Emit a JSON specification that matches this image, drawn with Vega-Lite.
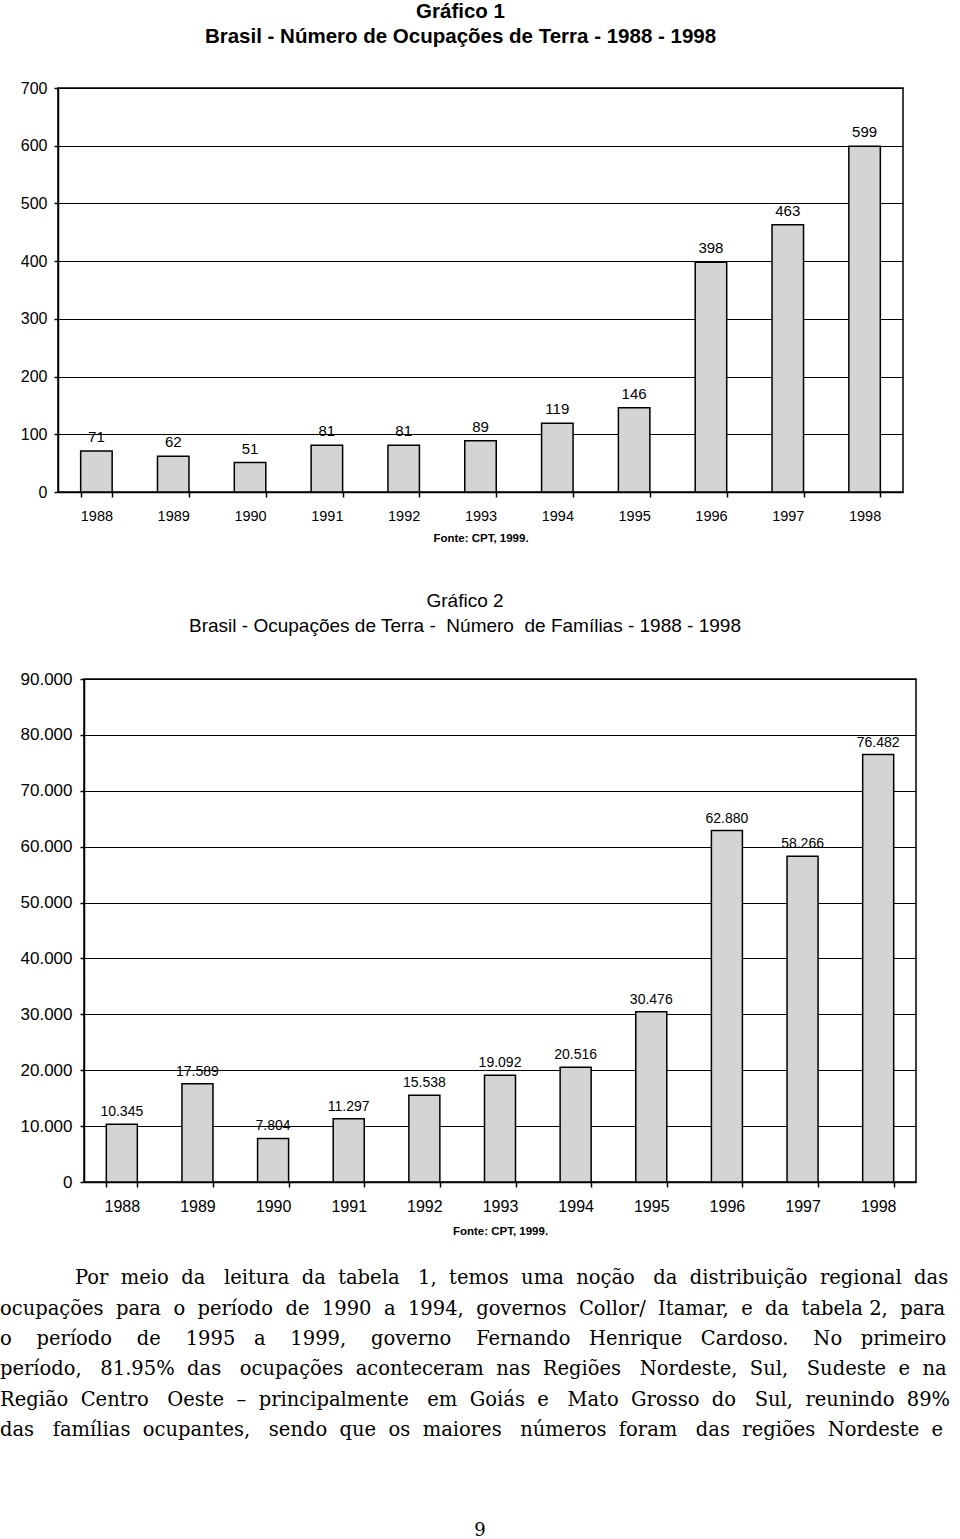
{
  "$schema": "https://vega.github.io/schema/vega-lite/v6.json",
  "padding": 0,
  "background": "white",
  "config": {
    "locale": {"number": {"decimal": ",", "thousands": ".", "grouping": [3], "currency": ["R$", ""]}},
    "view": {"stroke": "black", "strokeWidth": 1.5},
    "font": "Liberation Sans",
    "axis": {"domainColor": "black", "tickColor": "black", "gridColor": "black", "labelColor": "black", "titleColor": "black", "domainWidth": 1.5, "gridWidth": 1.2, "tickWidth": 1.5, "gridOpacity": 1, "labelFont": "Liberation Sans", "titleFont": "Liberation Sans"},
    "title": {"color": "black", "anchor": "middle", "frame": "group", "font": "Liberation Sans"}
  },
  "spacing": 25,
  "vconcat": [
    {
      "spacing": 46,
      "vconcat": [
        {"bounds": "flush", "spacing": 0, "hconcat": [
          {"width": 58, "height": 10, "view": {"stroke": null}, "data": {"values": []}, "mark": {"type": "point", "opacity": 0}},
          {
            "title": {"text": ["Gráfico 1", "Brasil - Número de Ocupações de Terra - 1988 - 1998"], "fontWeight": "bold", "fontSize": 20.5, "lineHeight": 25, "dx": -20, "offset": 33},
            "width": 845,
            "height": 404,
            "data": {"values": [
              {"ano": "1988", "ocupacoes": 71},
              {"ano": "1989", "ocupacoes": 62},
              {"ano": "1990", "ocupacoes": 51},
              {"ano": "1991", "ocupacoes": 81},
              {"ano": "1992", "ocupacoes": 81},
              {"ano": "1993", "ocupacoes": 89},
              {"ano": "1994", "ocupacoes": 119},
              {"ano": "1995", "ocupacoes": 146},
              {"ano": "1996", "ocupacoes": 398},
              {"ano": "1997", "ocupacoes": 463},
              {"ano": "1998", "ocupacoes": 599}
            ]},
            "encoding": {
              "x": {"field": "ano", "type": "ordinal", "scale": {"paddingInner": 0.59, "paddingOuter": 0.295},
                    "axis": {"title": "Fonte: CPT, 1999.", "titleFontWeight": "bold", "titleFontSize": 11.5, "titlePadding": 10, "labelAngle": 0, "tickBand": "extent", "tickSize": 5, "labelPadding": 12, "labelFontSize": 14.5, "grid": false}},
              "y": {"field": "ocupacoes", "type": "quantitative", "scale": {"domain": [0, 700], "nice": false},
                    "axis": {"values": [0, 100, 200, 300, 400, 500, 600, 700], "title": null, "tickSize": 4, "labelPadding": 7, "labelFontSize": 16, "grid": true}}
            },
            "layer": [
              {"mark": {"type": "bar", "fill": "#d4d4d4", "stroke": "black", "strokeWidth": 1.5}},
              {"mark": {"type": "text", "baseline": "bottom", "dy": -6, "fontSize": 15, "color": "black"},
               "encoding": {"text": {"field": "ocupacoes", "type": "quantitative"}}}
            ]
          }
        ]},
        {"bounds": "flush", "spacing": 0, "hconcat": [
          {"width": 84, "height": 10, "view": {"stroke": null}, "data": {"values": []}, "mark": {"type": "point", "opacity": 0}},
          {
            "title": {"text": ["Gráfico 2", "Brasil - Ocupações de Terra - \u00a0Número \u00a0de Famílias - 1988 - 1998"], "fontWeight": "normal", "fontSize": 19, "lineHeight": 25, "dx": -35, "offset": 34},
            "width": 832,
            "height": 503,
            "data": {"values": [
              {"ano": "1988", "familias": 10345},
              {"ano": "1989", "familias": 17589},
              {"ano": "1990", "familias": 7804},
              {"ano": "1991", "familias": 11297},
              {"ano": "1992", "familias": 15538},
              {"ano": "1993", "familias": 19092},
              {"ano": "1994", "familias": 20516},
              {"ano": "1995", "familias": 30476},
              {"ano": "1996", "familias": 62880},
              {"ano": "1997", "familias": 58266},
              {"ano": "1998", "familias": 76482}
            ]},
            "encoding": {
              "x": {"field": "ano", "type": "ordinal", "scale": {"paddingInner": 0.59, "paddingOuter": 0.295},
                    "axis": {"title": "Fonte: CPT, 1999.", "titleFontWeight": "bold", "titleFontSize": 11.5, "titlePadding": 11, "labelAngle": 0, "tickBand": "extent", "tickSize": 5, "labelPadding": 11, "labelFontSize": 16, "grid": false}},
              "y": {"field": "familias", "type": "quantitative", "scale": {"domain": [0, 90000], "nice": false},
                    "axis": {"values": [0, 10000, 20000, 30000, 40000, 50000, 60000, 70000, 80000, 90000], "format": ",d", "title": null, "tickSize": 4, "labelPadding": 8, "labelFontSize": 17, "grid": true}}
            },
            "layer": [
              {"mark": {"type": "bar", "fill": "#d4d4d4", "stroke": "black", "strokeWidth": 1.5}},
              {"mark": {"type": "text", "baseline": "bottom", "dy": -5, "fontSize": 14, "color": "black"},
               "encoding": {"text": {"field": "familias", "type": "quantitative", "format": ",d"}}}
            ]
          }
        ]}
      ]
    },
    {
      "width": 960,
      "height": 182,
      "view": {"stroke": null},
      "title": {"text": "9", "orient": "bottom", "font": "DejaVu Serif", "fontSize": 18, "fontWeight": "normal", "offset": 77},
      "data": {"values": [
        {"linha": 1, "texto": "Por \u00a0meio \u00a0da \u00a0\u00a0leitura \u00a0da \u00a0tabela \u00a0\u00a01, \u00a0temos \u00a0uma \u00a0noção \u00a0\u00a0da \u00a0distribuição \u00a0regional \u00a0das"},
        {"linha": 2, "texto": "ocupações \u00a0para \u00a0o \u00a0período \u00a0de \u00a01990 \u00a0a \u00a01994, \u00a0governos \u00a0Collor/ \u00a0Itamar, \u00a0e \u00a0da \u00a0tabela 2, \u00a0para"},
        {"linha": 3, "texto": "o \u00a0\u00a0\u00a0período \u00a0\u00a0\u00a0de \u00a0\u00a0\u00a01995 \u00a0\u00a0a \u00a0\u00a0\u00a01999, \u00a0\u00a0\u00a0governo \u00a0\u00a0\u00a0Fernando \u00a0\u00a0Henrique \u00a0\u00a0Cardoso. \u00a0\u00a0\u00a0No \u00a0\u00a0primeiro"},
        {"linha": 4, "texto": "período, \u00a0\u00a081.95% \u00a0das \u00a0\u00a0ocupações \u00a0aconteceram \u00a0nas \u00a0Regiões \u00a0\u00a0Nordeste, \u00a0Sul, \u00a0\u00a0Sudeste \u00a0e \u00a0na"},
        {"linha": 5, "texto": "Região \u00a0Centro \u00a0\u00a0Oeste \u00a0– \u00a0principalmente \u00a0\u00a0em \u00a0Goiás \u00a0e \u00a0\u00a0Mato \u00a0Grosso \u00a0do \u00a0\u00a0Sul, \u00a0reunindo \u00a089%"},
        {"linha": 6, "texto": "das \u00a0\u00a0famílias \u00a0ocupantes, \u00a0\u00a0sendo \u00a0que \u00a0os \u00a0maiores \u00a0\u00a0números \u00a0foram \u00a0\u00a0das \u00a0regiões \u00a0Nordeste \u00a0e"}
      ]},
      "encoding": {
        "y": {"field": "linha", "type": "ordinal", "axis": null},
        "x": {"value": 0},
        "text": {"field": "texto"}
      },
      "layer": [
        {"transform": [{"filter": "datum.linha == 1"}],
         "mark": {"type": "text", "align": "left", "baseline": "middle", "font": "DejaVu Serif", "fontSize": 19.5, "color": "black", "dx": 75}},
        {"transform": [{"filter": "datum.linha > 1"}],
         "mark": {"type": "text", "align": "left", "baseline": "middle", "font": "DejaVu Serif", "fontSize": 19.5, "color": "black"}}
      ]
    }
  ]
}
